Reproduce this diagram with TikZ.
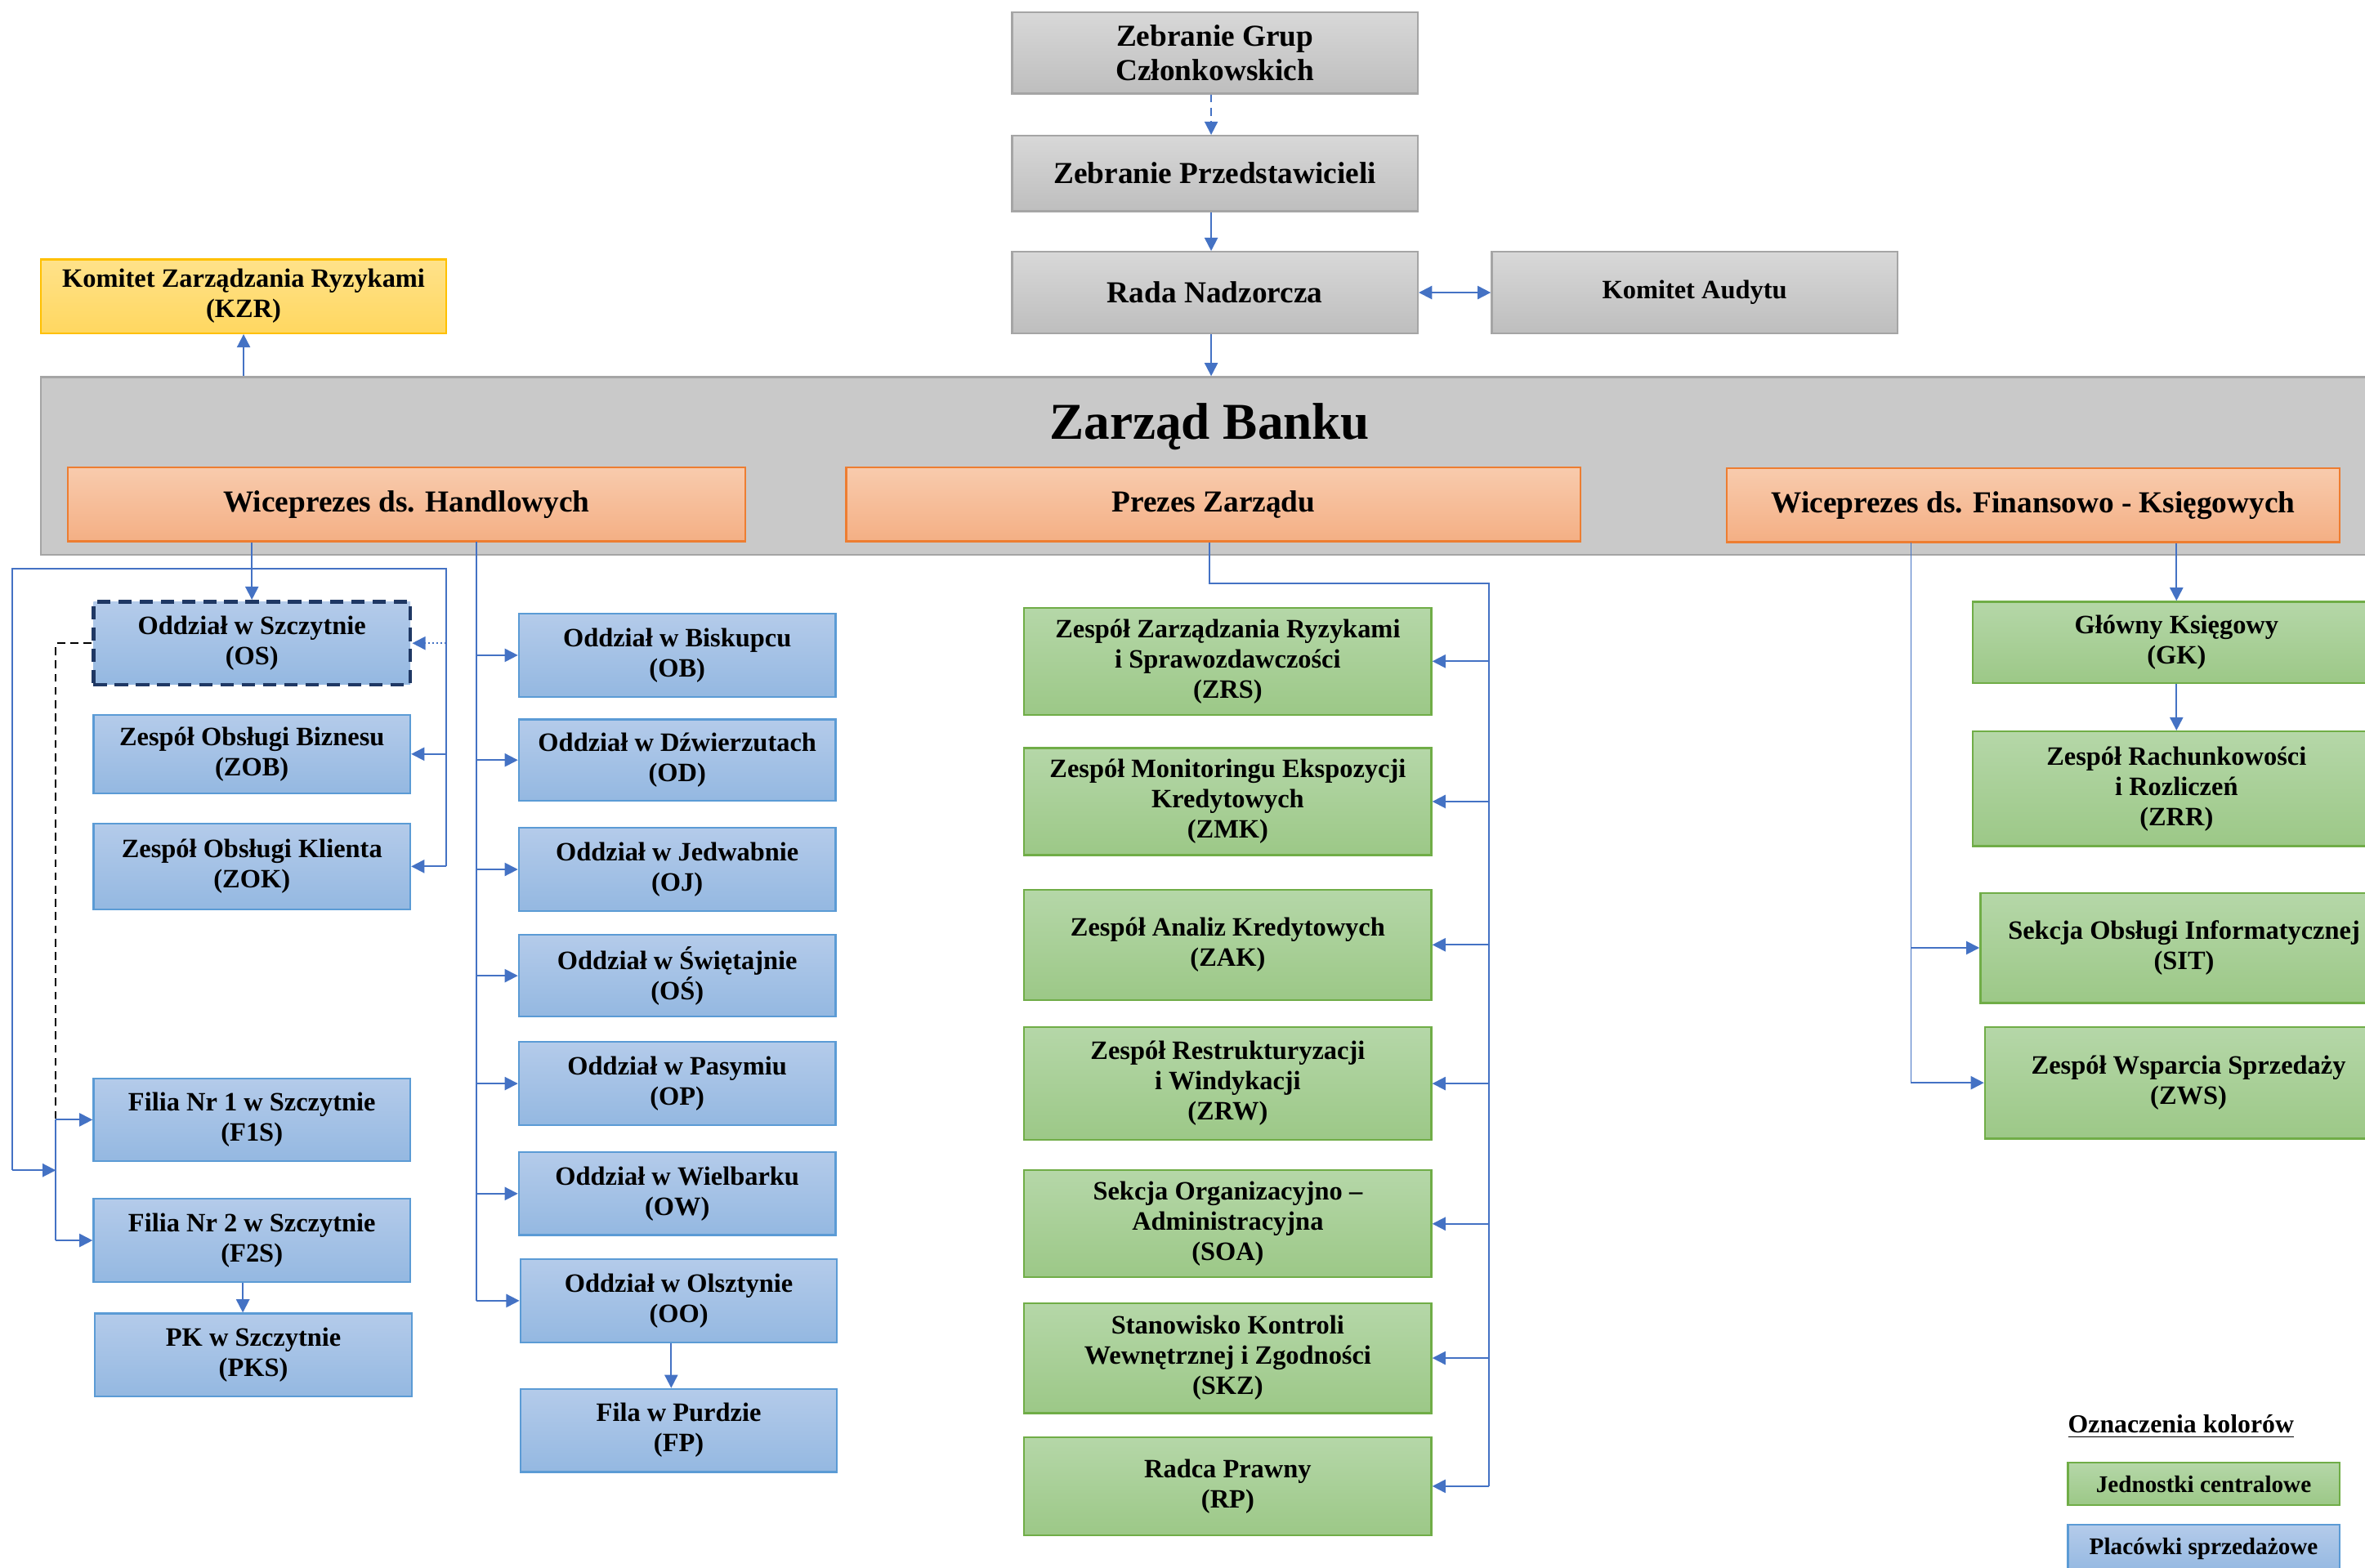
\documentclass[tikz,border=0pt]{standalone}
\usepackage{fontspec}
\setmainfont{Liberation Serif}
\usetikzlibrary{arrows.meta}
\definecolor{connc}{HTML}{4472C4}
\definecolor{grayT}{HTML}{D8D8D8}
\definecolor{grayB}{HTML}{BEBEBE}
\definecolor{grayD}{HTML}{A5A5A5}
\definecolor{zbF}{HTML}{C9C9C9}
\definecolor{orT}{HTML}{F8CBAD}
\definecolor{orB}{HTML}{F4AF84}
\definecolor{orD}{HTML}{ED7D31}
\definecolor{blT}{HTML}{B4CBEA}
\definecolor{blB}{HTML}{94B8E1}
\definecolor{blD}{HTML}{5B9BD5}
\definecolor{grT}{HTML}{B5D7A8}
\definecolor{grB}{HTML}{9CC887}
\definecolor{grD}{HTML}{70AD47}
\definecolor{yeT}{HTML}{FFE28A}
\definecolor{yeB}{HTML}{FFD760}
\definecolor{yeD}{HTML}{FFC000}
\definecolor{navy}{HTML}{1F3864}
\begin{document}
\begin{tikzpicture}[x=0.02cm,y=-0.02cm,
  sz/.style 2 args={minimum width=#1*0.02cm, minimum height=#2*0.02cm},
  base/.style={rectangle, inner sep=1pt, align=center, line width=0.7pt,
    font=\fontsize{10}{11.4}\selectfont\bfseries},
  graybox/.style={base, top color=grayT, bottom color=grayB, draw=grayD,
    font=\fontsize{11.5}{13}\selectfont\bfseries},
  zbox/.style={rectangle, inner sep=0pt, fill=zbF, draw=grayD, line width=0.7pt},
  orangebox/.style={base, top color=orT, bottom color=orB, draw=orD,
    font=\fontsize{11.5}{13}\selectfont\bfseries},
  bluebox/.style={base, top color=blT, bottom color=blB, draw=blD},
  greenbox/.style={base, top color=grT, bottom color=grB, draw=grD},
  yellowbox/.style={base, top color=yeT, bottom color=yeB, draw=yeD},
  conn/.style={draw=connc, line width=0.6pt},
  arr/.style={conn, -{Triangle[width=5pt,length=5pt]}},
  smallfont/.style={font=\fontsize{9}{10.5}\selectfont\bfseries}
]
\useasboundingbox (0,0) rectangle (1568,1039.7);

% top governance
\node[graybox, sz={269}{54}] (ZGC) at (805.5,35) {Zebranie Grup\\Członkowskich};
\node[graybox, sz={269}{50}] (ZP) at (805.5,115) {Zebranie Przedstawicieli};
\node[graybox, sz={269}{54}] (RN) at (805.5,194) {Rada Nadzorcza};
\node[graybox, sz={269}{54}, font=\fontsize{10}{11.4}\selectfont\bfseries] (KA) at (1123.5,194) {Komitet Audytu};
\node[yellowbox, sz={269}{49}] (KZR) at (161.5,196.5) {Komitet Zarządzania Ryzykami\\(KZR)};

% board
\node[zbox, sz={1573}{118}] (ZB) at (813.5,309) {};
\node[font=\fontsize{19.5}{22}\selectfont\bfseries] (ZBt) at (802,283) {Zarząd Banku};
\node[orangebox, sz={449}{49}] (WH) at (269.5,334.5) {Wiceprezes ds. Handlowych};
\node[orangebox, sz={487}{49}] (PZ) at (804.5,334.5) {Prezes Zarządu};
\node[orangebox, sz={406}{49}] (WF) at (1348,335) {Wiceprezes ds. Finansowo - Księgowych};

% left column
\node[bluebox, sz={210}{55}, draw=navy, line width=1.5pt, dash pattern=on 5pt off 3pt] (OS) at (167,426.5) {Oddział w Szczytnie\\(OS)};
\node[bluebox, sz={210}{52}] (ZOB) at (167,500) {Zespół Obsługi Biznesu\\(ZOB)};
\node[bluebox, sz={210}{57}] (ZOK) at (167,574.5) {Zespół Obsługi Klienta\\(ZOK)};
\node[bluebox, sz={210}{55}] (F1S) at (167,742.5) {Filia Nr 1 w Szczytnie\\(F1S)};
\node[bluebox, sz={210}{55}] (F2S) at (167,822.5) {Filia Nr 2 w Szczytnie\\(F2S)};
\node[bluebox, sz={210}{55}] (PKS) at (168,898.5) {PK w Szczytnie\\(PKS)};

% second column
\node[bluebox, sz={210}{55}] (OB) at (449,434.5) {Oddział w Biskupcu\\(OB)};
\node[bluebox, sz={210}{54}] (OD) at (449,504) {Oddział w Dźwierzutach\\(OD)};
\node[bluebox, sz={210}{55}] (OJ) at (449,576.5) {Oddział w Jedwabnie\\(OJ)};
\node[bluebox, sz={210}{54}] (OSW) at (449,647) {Oddział w Świętajnie\\(OŚ)};
\node[bluebox, sz={210}{55}] (OP) at (449,718.5) {Oddział w Pasymiu\\(OP)};
\node[bluebox, sz={210}{55}] (OW) at (449,791.5) {Oddział w Wielbarku\\(OW)};
\node[bluebox, sz={210}{55}] (OO) at (450,862.5) {Oddział w Olsztynie\\(OO)};
\node[bluebox, sz={210}{55}] (FP) at (450,948.5) {Fila w Purdzie\\(FP)};

% central units
\node[greenbox, sz={270}{71}] (ZRS) at (814,438.5) {Zespół Zarządzania Ryzykami\\i Sprawozdawczości\\(ZRS)};
\node[greenbox, sz={270}{71}] (ZMK) at (814,531.5) {Zespół Monitoringu Ekspozycji\\Kredytowych\\(ZMK)};
\node[greenbox, sz={270}{73}] (ZAK) at (814,626.5) {Zespół Analiz Kredytowych\\(ZAK)};
\node[greenbox, sz={270}{75}] (ZRW) at (814,718.5) {Zespół Restrukturyzacji\\i Windykacji\\(ZRW)};
\node[greenbox, sz={270}{71}] (SOA) at (814,811.5) {Sekcja Organizacyjno –\\Administracyjna\\(SOA)};
\node[greenbox, sz={270}{73}] (SKZ) at (814,900.5) {Stanowisko Kontroli\\Wewnętrznej i Zgodności\\(SKZ)};
\node[greenbox, sz={270}{65}] (RP) at (814,985.5) {Radca Prawny\\(RP)};

% right column
\node[greenbox, sz={270}{54}] (GK) at (1443,426) {Główny Księgowy\\(GK)};
\node[greenbox, sz={270}{76}] (ZRR) at (1443,523) {Zespół Rachunkowości\\i Rozliczeń\\(ZRR)};
\node[greenbox, sz={270}{73}] (SIT) at (1448,628.5) {Sekcja Obsługi Informatycznej\\(SIT)};
\node[greenbox, sz={270}{74}] (ZWS) at (1451,718) {Zespół Wsparcia Sprzedaży\\(ZWS)};

% legend
\node[font=\fontsize{9.8}{11}\selectfont\bfseries] (LT) at (1446,946) {\underline{Oznaczenia kolorów}};
\node[greenbox, sz={180}{28}, smallfont] (LG) at (1461,984) {Jednostki centralowe};
\node[bluebox, sz={180}{32}, smallfont] (LB) at (1461,1027) {Placówki sprzedażowe};

% connectors top
\coordinate (C0) at (803,0);
\draw[arr, dash pattern=on 3pt off 2pt] (C0 |- ZGC.south) -- (C0 |- ZP.north);
\draw[arr] (C0 |- ZP.south) -- (C0 |- RN.north);
\draw[conn, {Triangle[width=5pt,length=5pt]}-{Triangle[width=5pt,length=5pt]}] (RN) -- (KA);
\draw[arr] (C0 |- RN.south) -- (C0 |- ZB.north);
\draw[arr] (KZR.south |- ZB.north) -- (KZR.south);

% left connectors
\coordinate (L1) at (8,377);
\coordinate (L2) at (296,377);
\coordinate (D1) at (37,426.5);
\coordinate (T2) at (316,359);
\coordinate (P1) at (161,0);
\draw[arr] (WH.south -| OS.north) -- (OS.north);
\draw[conn] (L1 |- 0,776) -- (L1) -- (L2) -- (L2 |- ZOK.east);
\draw[arr] (L2 |- ZOB.east) -- (ZOB.east);
\draw[arr] (L2 |- ZOK.east) -- (ZOK.east);
\draw[arr, densely dotted] (L2 |- OS.east) -- (OS.east);
\draw[black, line width=0.5pt, densely dashed] (OS.west) -- (D1) -- (D1 |- F1S.west);
\draw[arr] (D1 |- F1S.west) -- (F1S.west);
\draw[conn] (D1 |- F1S.west) -- (D1 |- F2S.west);
\draw[arr] (D1 |- F2S.west) -- (F2S.west);
\draw[arr] (L1 |- 0,776) -- (D1 |- 0,776);
\draw[arr] (P1 |- F2S.south) -- (P1 |- PKS.north);

% second column connectors
\coordinate (P2) at (445,0);
\draw[conn] (T2) -- (T2 |- OO.west);
\foreach \n in {OB,OD,OJ,OSW,OP,OW,OO}{
  \draw[arr] (T2 |- \n.west) -- (\n.west);
}
\draw[arr] (P2 |- OO.south) -- (P2 |- FP.north);

% central connectors
\coordinate (G0) at (802,0);
\coordinate (G1) at (987,387);
\draw[conn] (G0 |- PZ.south) |- (G1) -- (G1 |- RP.east);
\foreach \n in {ZRS,ZMK,ZAK,ZRW,SOA,SKZ,RP}{
  \draw[arr] (G1 |- \n.east) -- (\n.east);
}

% right connectors
\coordinate (R1) at (1267,359.5);
\draw[arr] (WF.south -| GK.north) -- (GK.north);
\draw[arr] (GK) -- (ZRR);
\draw[conn] (R1) -- (R1 |- ZWS.west);
\draw[arr] (R1 |- SIT.west) -- (SIT.west);
\draw[arr] (R1 |- ZWS.west) -- (ZWS.west);
\end{tikzpicture}
\end{document}
